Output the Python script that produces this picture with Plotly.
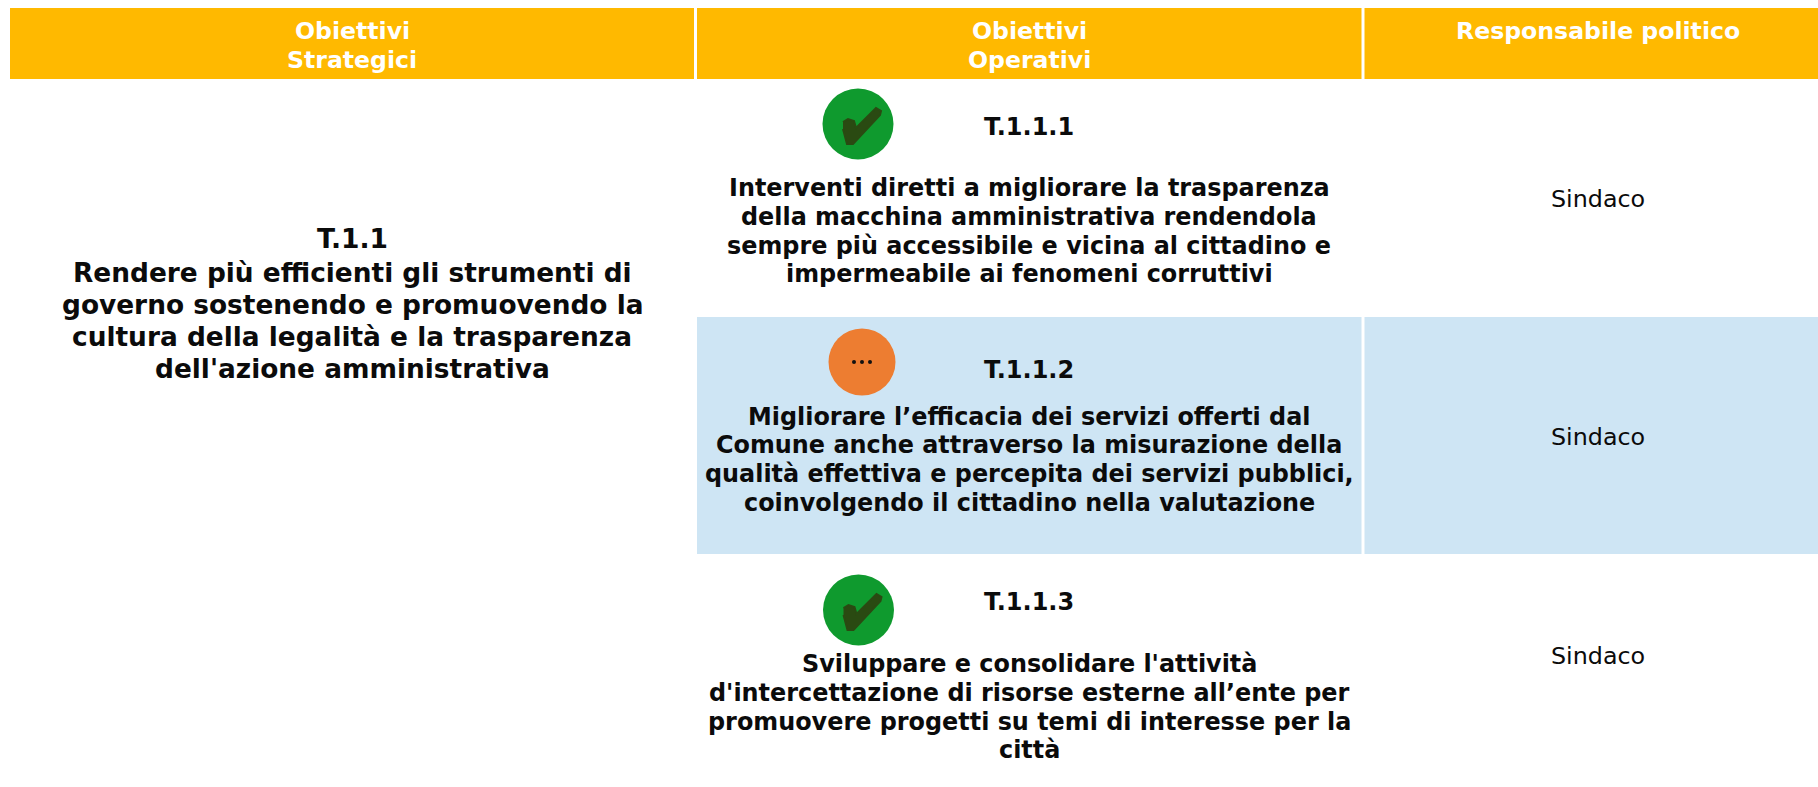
import plotly.graph_objects as go

# ---- content ----
headers = [["Obiettivi", "Strategici"], ["Obiettivi", "Operativi"], ["Responsabile politico"]]
strategic_code = "T.1.1"
strategic_lines = ["Rendere più efficienti gli strumenti di",
                   "governo sostenendo e promuovendo la",
                   "cultura della legalità e la trasparenza",
                   "dell'azione amministrativa"]
operative_codes = ["T.1.1.1", "T.1.1.2", "T.1.1.3"]
operative_lines = [
    ["Interventi diretti a migliorare la trasparenza",
     "della macchina amministrativa rendendola",
     "sempre più accessibile e vicina al cittadino e",
     "impermeabile ai fenomeni corruttivi"],
    ["Migliorare l’efficacia dei servizi offerti dal",
     "Comune anche attraverso la misurazione della",
     "qualità effettiva e percepita dei servizi pubblici,",
     "coinvolgendo il cittadino nella valutazione"],
    ["Sviluppare e consolidare l'attività",
     "d'intercettazione di risorse esterne all’ente per",
     "promuovere progetti su temi di interesse per la",
     "città"],
]
responsibles = ["Sindaco", "Sindaco", "Sindaco"]
statuses = ["done", "progress", "done"]

# ---- style and layout ----
W, H = 1818, 787
FONT = "DejaVu Sans"
AMBER, BLUE, INK = "#FFB900", "#CEE5F4", "#0B0B0B"
GREEN, ORANGE, CHECK = "#0F9A2E", "#ED7D31", "#2A4A12"
col_cx = [352, 1029, 1598]
col_edges = [(10, 694), (697, 1361.5), (1364.5, 1818)]
head_y = [(31, 60), (31, 60), (31,)]
code_y = [127, 370, 602]
body_y = [188, 416.5, 664]
body_step = 28.8
resp_y = [199, 437, 656]
icon_xy = [(858, 124), (862, 362), (858.5, 610)]
check_dx = [-15, -10, -4, -2, 18, 23, 22, -5, -11, -15]
check_dy = [-2, -5, -3, 4, -16, -13, -9, 20, 20, 5]

fig = go.Figure()
shapes, notes = [], []


def label(x, y, text, size, bold=True, color=INK):
    notes.append(dict(x=x, y=y, text=f"<b>{text}</b>" if bold else text, showarrow=False,
                      xanchor="center", yanchor="middle", align="center",
                      font=dict(family=FONT, size=size, color=color)))


for (x0, x1) in col_edges:
    shapes.append(dict(type="rect", x0=x0, x1=x1, y0=8, y1=79, fillcolor=AMBER, line_width=0, layer="below"))
for (x0, x1) in col_edges[1:]:
    shapes.append(dict(type="rect", x0=x0, x1=x1, y0=317, y1=554, fillcolor=BLUE, line_width=0, layer="below"))

for cx, lines, ys in zip(col_cx, headers, head_y):
    for t, y in zip(lines, ys):
        label(cx, y, t, 23.6, color="#FFFFFF")

label(col_cx[0], 238.5, strategic_code, 26.5)
for i, t in enumerate(strategic_lines):
    label(col_cx[0], 272 + 32 * i, t, 26.4)

for code, y, lines, by in zip(operative_codes, code_y, operative_lines, body_y):
    label(col_cx[1], y, code, 24)
    for i, t in enumerate(lines):
        label(col_cx[1], by + body_step * i, t, 23.9)

for r, y in zip(responsibles, resp_y):
    label(col_cx[2], y, r, 23.8, bold=False)

for status, (cx, cy) in zip(statuses, icon_xy):
    done = status == "done"
    fig.add_trace(go.Scatter(x=[cx], y=[cy], mode="markers", hoverinfo="skip",
                             marker=dict(size=71 if done else 67, color=GREEN if done else ORANGE,
                                         line_width=0)))
    if done:
        fig.add_trace(go.Scatter(x=[cx + d for d in check_dx], y=[cy + d for d in check_dy],
                                 mode="lines", fill="toself", fillcolor=CHECK, hoverinfo="skip",
                                 line=dict(color=CHECK, width=2)))
    else:
        fig.add_trace(go.Scatter(x=[cx - 8, cx, cx + 8], y=[cy, cy, cy], mode="markers", hoverinfo="skip",
                                 marker=dict(size=4, color="#111111", line_width=0)))

fig.update_layout(width=W, height=H, margin=dict(l=0, r=0, t=0, b=0), showlegend=False,
                  paper_bgcolor="white", plot_bgcolor="white", shapes=shapes, annotations=notes,
                  xaxis=dict(range=[0, W], visible=False, fixedrange=True),
                  yaxis=dict(range=[H, 0], visible=False, fixedrange=True))
fig.write_html("out.html", config=dict(displayModeBar=False),
               post_script="document.body.style.margin='0';document.body.style.overflow='hidden';")
